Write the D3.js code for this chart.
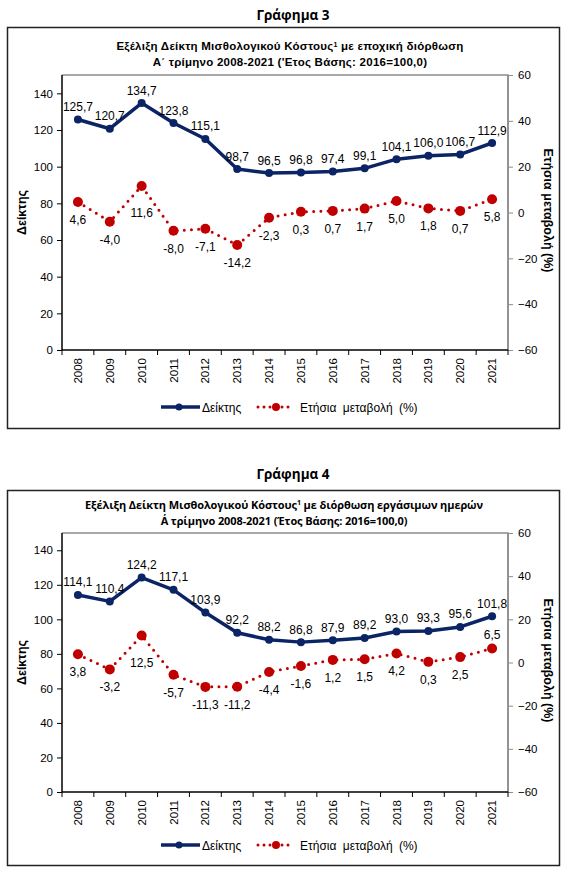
<!DOCTYPE html>
<html>
<head>
<meta charset="utf-8">
<script src="https://cdn.jsdelivr.net/npm/d3@7"></script>
<style>
  html, body { margin: 0; padding: 0; background: #fff; }
  svg { display: block; font-family: "Liberation Sans", Arial, sans-serif; }
</style>
</head>
<body>
<svg id="chart" width="586" height="874"></svg>
<script>
// ---- Data ----
const years = ["2008","2009","2010","2011","2012","2013","2014","2015","2016","2017","2018","2019","2020","2021"];

// Γράφημα 3 — εποχική διόρθωση
const index3 = [125.7,120.7,134.7,123.8,115.1,98.7,96.5,96.8,97.4,99.1,104.1,106.0,106.7,112.9];
const change3 = [4.6,-4.0,11.6,-8.0,-7.1,-14.2,-2.3,0.3,0.7,1.7,5.0,1.8,0.7,5.8];
const changePos3 = ["below","below","far","below","below","below","below","below","below","below","below","below","below","below"];

// Γράφημα 4 — διόρθωση εργάσιμων ημερών
const index4 = [114.1,110.4,124.2,117.1,103.9,92.2,88.2,86.8,87.9,89.2,93.0,93.3,95.6,101.8];
const change4 = [3.8,-3.2,12.5,-5.7,-11.3,-11.2,-4.4,-1.6,1.2,1.5,4.2,0.3,2.5,6.5];
const changePos4 = ["below","below","far","below","below","below","below","below","below","below","below","below","below","above"];

const leftTicks = [0,20,40,60,80,100,120,140];
const rightTicks = [-60,-40,-20,0,20,40,60];
const leftDomain = [0,150];
const rightDomain = [-60,60];

const seriesNames = ["Δείκτης","Ετήσια μεταβολή (%)"];
const leftAxisTitle = "Δείκτης";
const rightAxisTitle = "Ετήσια μεταβολή (%)";

const NAVY = "#0B2465";
const RED = "#C00000";
const fmt = v => v.toFixed(1).replace(".", ",");

const svg = d3.select("#chart");

function drawChart(o) {
  const g = svg.append("g");
  // Heading
  g.append("text").attr("x", 293).attr("y", o.headY)
    .attr("text-anchor","middle").attr("font-size", 13.5).attr("font-weight","bold")
    .attr("font-family", "'Open Sans', 'Liberation Sans', sans-serif")
    .text(o.heading);
  // Box
  g.append("rect").attr("x", 7.5).attr("y", o.boxTop + 0.5)
    .attr("width", 552).attr("height", o.boxBottom - o.boxTop)
    .attr("fill","none").attr("stroke","#222").attr("stroke-width",1.5);
  // Titles
  o.titles.forEach((t, i) => {
    g.append("text").attr("x", o.titleX).attr("y", o.titleY + i * 16)
      .attr("text-anchor","middle").attr("font-size", o.titleSize).attr("font-weight","bold")
      .attr("font-family", o.titleFont).attr("letter-spacing", o.titleSpacing)
      .selectAll("tspan").data(t).join("tspan")
      .attr("baseline-shift", d => d.sup ? "super" : null)
      .attr("font-size", d => d.sup ? 7 : null)
      .text(d => d.t);
  });

  const x = d3.scaleBand().domain(years).range([62, 508]);
  const yL = d3.scaleLinear().domain(leftDomain).range([o.plotBottom, o.plotTop]);
  const yR = d3.scaleLinear().domain(rightDomain).range([o.plotBottom, o.plotTop]);

  // plot area border top & right
  g.append("path")
    .attr("d", `M62,${o.plotTop}H508V${o.plotBottom}`)
    .attr("fill","none").attr("stroke","#8c8c8c").attr("stroke-width",1.5);

  // Left axis
  const axL = g.append("g").attr("transform","translate(62,0)")
    .call(d3.axisLeft(yL).tickValues(leftTicks).tickSize(5).tickPadding(4).tickFormat(d3.format("d")));
  axL.select(".domain").attr("stroke","#000").attr("stroke-width",1.5).attr("d", `M0,${o.plotTop}V${o.plotBottom}`);
  axL.selectAll(".tick line").attr("stroke","#000");
  axL.selectAll("text").attr("font-size",11.5).attr("font-family","'Liberation Sans', Arial, sans-serif").attr("fill","#000");

  // Right axis
  const axR = g.append("g").attr("transform","translate(508,0)")
    .call(d3.axisRight(yR).tickValues(rightTicks).tickSize(5).tickPadding(5).tickFormat(d3.format("d")));
  axR.select(".domain").attr("stroke","#8c8c8c").attr("stroke-width",1.5).attr("d", `M0,${o.plotTop}V${o.plotBottom}`);
  axR.selectAll(".tick line").attr("stroke","#8c8c8c");
  axR.selectAll("text").attr("font-size",11.5).attr("font-family","'Liberation Sans', Arial, sans-serif").attr("fill","#000");

  // Bottom axis
  const axB = g.append("g").attr("transform",`translate(0,${o.plotBottom})`)
    .call(d3.axisBottom(x).tickSize(0).tickFormat(""));
  axB.select(".domain").attr("stroke","#000").attr("stroke-width",1.5).attr("d","M62,0H508");
  g.append("g").selectAll("line").data(years.concat(["end"])).join("line")
    .attr("x1", (d,i) => 62 + i * x.step()).attr("x2", (d,i) => 62 + i * x.step())
    .attr("y1", o.plotBottom).attr("y2", o.plotBottom + 5)
    .attr("stroke","#000").attr("stroke-width",1);
  g.append("g").selectAll("text").data(years).join("text")
    .attr("transform", d => `translate(${x(d) + x.bandwidth()/2 + 4},${o.plotBottom + 8}) rotate(-90)`)
    .attr("text-anchor","end").attr("font-size",11.5).text(d => d);

  // Axis titles
  g.append("text")
    .attr("transform", `translate(26,${(o.plotTop + o.plotBottom)/2}) rotate(-90)`)
    .attr("text-anchor","middle").attr("font-size",12.5).attr("font-weight","bold").text(leftAxisTitle);
  g.append("text")
    .attr("transform", `translate(544,${(o.plotTop + o.plotBottom)/2 - 2}) rotate(90)`)
    .attr("text-anchor","middle").attr("font-size",12.5).attr("font-weight","bold").text(rightAxisTitle);

  const cx = (d,i) => x(years[i]) + x.bandwidth()/2;

  // Change series (dotted red)
  const lineR = d3.line().x((d,i) => cx(d,i)).y(d => yR(d));
  g.append("path").datum(o.change).attr("d", lineR)
    .attr("fill","none").attr("stroke",RED).attr("stroke-width",3)
    .attr("stroke-linecap","round").attr("stroke-dasharray","0 7.2");
  g.append("g").selectAll("circle").data(o.change).join("circle")
    .attr("cx", cx).attr("cy", d => yR(d)).attr("r", 5).attr("fill", RED);

  // Index series (navy)
  const lineL = d3.line().x((d,i) => cx(d,i)).y(d => yL(d));
  g.append("path").datum(o.index).attr("d", lineL)
    .attr("fill","none").attr("stroke",NAVY).attr("stroke-width",3.5).attr("stroke-linejoin","round");
  g.append("g").selectAll("circle").data(o.index).join("circle")
    .attr("cx", cx).attr("cy", d => yL(d)).attr("r", 4).attr("fill", NAVY);

  // Labels
  const dy = { above: -9, below: 22, far: 31 };
  g.append("g").selectAll("text").data(o.index).join("text")
    .attr("x", cx).attr("y", d => yL(d) - 8.5)
    .attr("text-anchor","middle").attr("font-size",12).text(d => fmt(d));
  g.append("g").selectAll("text").data(o.change).join("text")
    .attr("x", cx).attr("y", (d,i) => yR(d) + dy[o.pos[i]])
    .attr("text-anchor","middle").attr("font-size",12).text(d => fmt(d));

  // Legend
  const ly = o.legendY;
  g.append("line").attr("x1",161).attr("x2",200).attr("y1",ly).attr("y2",ly)
    .attr("stroke",NAVY).attr("stroke-width",3.5);
  g.append("circle").attr("cx",179).attr("cy",ly).attr("r",3.5).attr("fill",NAVY);
  g.append("text").attr("x",202).attr("y",ly+4.5).attr("font-size",12).text(seriesNames[0]);
  g.append("line").attr("x1",258).attr("x2",294).attr("y1",ly).attr("y2",ly)
    .attr("stroke",RED).attr("stroke-width",3).attr("stroke-linecap","round").attr("stroke-dasharray","0 6");
  g.append("circle").attr("cx",276).attr("cy",ly).attr("r",4).attr("fill",RED);
  g.append("text").attr("x",300).attr("y",ly+4.5).attr("font-size",12).attr("word-spacing",3).text(seriesNames[1]);
}

drawChart({
  heading: "Γράφημα 3", headY: 20,
  boxTop: 27, boxBottom: 428,
  titles: [
    [{t:"Εξέλιξη Δείκτη Μισθολογικού Κόστους"},{t:"1",sup:true},{t:" με εποχική διόρθωση"}],
    [{t:"Α΄ τρίμηνο 2008-2021 ('Ετος Βάσης: 2016=100,0)"}]
  ],
  titleX: 290, titleY: 50, titleSize: 11.5, titleSpacing: 0.25,
  titleFont: "'Liberation Sans', Arial, sans-serif",
  plotTop: 75, plotBottom: 350,
  index: index3, change: change3, pos: changePos3,
  legendY: 407
});

drawChart({
  heading: "Γράφημα 4", headY: 479,
  boxTop: 490, boxBottom: 865,
  titles: [
    [{t:"Εξέλιξη Δείκτη Μισθολογικού Κόστους"},{t:"1",sup:true},{t:" με διόρθωση εργάσιμων  ημερών"}],
    [{t:"Α΄ τρίμηνο 2008-2021  (Έτος Βάσης: 2016=100,0)"}]
  ],
  titleX: 284, titleY: 509, titleSize: 11, titleSpacing: -0.1,
  titleFont: "'Open Sans', 'Liberation Sans', sans-serif",
  plotTop: 533, plotBottom: 792,
  index: index4, change: change4, pos: changePos4,
  legendY: 845
});
</script>
</body>
</html>
